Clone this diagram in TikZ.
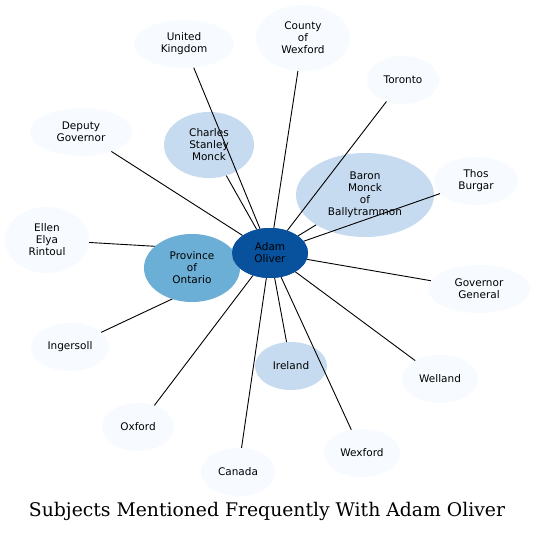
\documentclass[tikz,border=0pt]{standalone}
\usepackage{fontspec}
\setsansfont{DejaVu Sans}
\newfontfamily\titlefont{DejaVu Serif}
\usetikzlibrary{shapes.geometric}
\definecolor{cdark}{HTML}{08519C}
\definecolor{cmid}{HTML}{6BAED6}
\definecolor{clight}{HTML}{C6DBEF}
\definecolor{cpale}{HTML}{F7FBFF}
\tikzset{
  bub/.style={ellipse, inner sep=0pt, draw=none, align=center,
    font=\sffamily\fontsize{10.5}{12}\selectfont, text=black},
  pale/.style={bub, fill=cpale},
  light/.style={bub, fill=clight},
  mid/.style={bub, fill=cmid},
  dark/.style={bub, fill=cdark},
  link/.style={draw=black, line width=0.9pt}
}
\begin{document}
\begin{tikzpicture}[x=1pt,y=-1pt]
\useasboundingbox[fill=white] (0,0) rectangle (535,533);
% nodes that edges cross over
\node[light, minimum width=90pt, minimum height=66pt] (cs) at (209,145) {Charles\\Stanley\\Monck};
\node[light, minimum width=138pt, minimum height=84pt] (bm) at (365,195) {Baron\\Monck\\of\\Ballytrammon};
% outer nodes
\node[pale, minimum width=100pt, minimum height=48pt] (uk) at (184,44) {United\\Kingdom};
\node[pale, minimum width=94pt, minimum height=66pt] (cw) at (303,38) {County\\of\\Wexford};
\node[pale, minimum width=72pt, minimum height=48pt] (to) at (403,80) {Toronto};
\node[pale, minimum width=102pt, minimum height=48pt] (dg) at (81,132) {Deputy\\Governor};
\node[pale, minimum width=84pt, minimum height=48pt] (tb) at (476,181) {Thos\\Burgar};
\node[pale, minimum width=84pt, minimum height=66pt] (ee) at (47,240) {Ellen\\Elya\\Rintoul};
\node[pale, minimum width=102pt, minimum height=48pt] (gg) at (479,289) {Governor\\General};
\node[pale, minimum width=78pt, minimum height=48pt] (in) at (70,347) {Ingersoll};
\node[pale, minimum width=76pt, minimum height=48pt] (we) at (440,379) {Welland};
\node[pale, minimum width=72pt, minimum height=48pt] (ox) at (138,427) {Oxford};
\node[pale, minimum width=76pt, minimum height=48pt] (wx) at (362,453) {Wexford};
\node[pale, minimum width=74pt, minimum height=48pt] (ca) at (238,472) {Canada};
\node[light, minimum width=72pt, minimum height=48pt] (ir) at (291,366) {Ireland};
% centre (for edge geometry)
\node[dark, minimum width=76pt, minimum height=50pt] (ao) at (270,253) {};
% edges
\foreach \t in {cs,bm,uk,cw,to,dg,tb,ee,gg,in,we,ox,wx,ca,ir}
  \draw[link] (ao) -- (\t);
% province drawn above edges
\node[mid, minimum width=96pt, minimum height=68pt] (po) at (192,268) {Province\\of\\Ontario};
\draw[link] (ao) -- (po);
\node[dark, minimum width=76pt, minimum height=50pt] (ao2) at (270,253) {Adam\\Oliver};
% title
\node[inner sep=0pt] (title) at (267,511) {\resizebox{476pt}{!}{\titlefont Subjects Mentioned Frequently With Adam Oliver}};
\end{tikzpicture}
\end{document}
